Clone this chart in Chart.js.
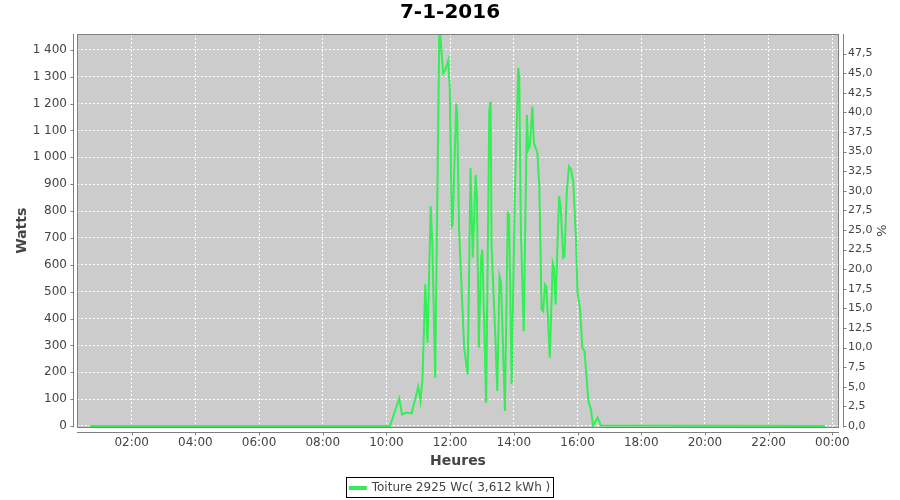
<!DOCTYPE html>
<html>
<head>
<meta charset="utf-8">
<script src="https://cdn.jsdelivr.net/npm/chart.js@4/dist/chart.umd.min.js"></script>
<style>
  body { margin: 0; background: #ffffff; }
  #wrap { width: 900px; height: 500px; }
</style>
</head>
<body>
<div id="wrap"><canvas id="prodChart" width="900" height="500"></canvas></div>
<script>
// production du jour, heures decimales / watts
var hours = [0.69, 10.11, 10.40, 10.49, 10.62, 10.79, 11.00, 11.07, 11.13, 11.22, 11.29, 11.39, 11.44, 11.53,
  11.66, 11.70, 11.78, 11.85, 11.94, 11.99, 12.05, 12.08, 12.19, 12.22, 12.28, 12.44, 12.55, 12.64,
  12.71, 12.80, 12.84, 12.90, 12.97, 13.01, 13.13, 13.23, 13.27, 13.30, 13.41, 13.48, 13.55, 13.60,
  13.72, 13.81, 13.85, 13.93, 14.03, 14.14, 14.17, 14.22, 14.31, 14.41, 14.45, 14.50, 14.58, 14.63,
  14.74, 14.80, 14.87, 14.92, 14.98, 15.02, 15.13, 15.22, 15.26, 15.31, 15.42, 15.47, 15.55, 15.59,
  15.66, 15.73, 15.80, 15.87, 15.95, 16.00, 16.08, 16.15, 16.22, 16.34, 16.42, 16.49, 16.63, 16.73, 23.77];
var watts = [0, 0, 102, 43, 50, 47, 146, 93, 173, 527, 310, 818, 681, 180,
  1475, 1440, 1313, 1326, 1360, 1251, 743, 750, 1200, 1165, 731, 291, 192, 960,
  626, 935, 855, 291, 620, 657, 87, 1177, 1208, 669, 359, 130, 558, 533,
  56, 793, 787, 155, 855, 1332, 1301, 731, 353, 1158, 1028, 1041, 1189, 1053,
  1016, 892, 434, 427, 527, 520, 254, 607, 589, 452, 855, 818, 626, 632,
  867, 966, 954, 904, 694, 496, 434, 291, 279, 93, 62, 0, 31, 2, 0];

var seriesLabel = 'Toiture 2925 Wc( 3,612 kWh )';
var xTickHours = [2, 4, 6, 8, 10, 12, 14, 16, 18, 20, 22, 24];
var xTickLabels = ['02:00', '04:00', '06:00', '08:00', '10:00', '12:00', '14:00', '16:00', '18:00', '20:00', '22:00', '00:00'];
var wattTicks = [0, 100, 200, 300, 400, 500, 600, 700, 800, 900, 1000, 1100, 1200, 1300, 1400];
var pctTicks = [0, 2.5, 5, 7.5, 10, 12.5, 15, 17.5, 20, 22.5, 25, 27.5, 30, 32.5, 35, 37.5, 40, 42.5, 45, 47.5];

var PAD_B = -4;
var PLOT_BOTTOM = 427.5;
var FONT = "'DejaVu Sans', sans-serif";
var GREY = '#444444';

var points = [];
for (var i = 0; i < hours.length; i++) {
  points.push({ x: hours[i], y: watts[i] });
}

// fond gris, cadre et lignes d'axe decalees facon jfreechart
var plotDeco = {
  id: 'plotDeco',
  beforeDraw: function(chart) {
    var a = chart.chartArea, c = chart.ctx;
    c.save();
    c.fillStyle = '#cccccc';
    c.fillRect(a.left, a.top, a.right - a.left, a.bottom - a.top);
    c.restore();
  },
  afterDraw: function(chart) {
    var a = chart.chartArea, c = chart.ctx;
    c.save();
    c.strokeStyle = '#808080';
    c.lineWidth = 1;
    c.strokeRect(Math.round(a.left) + 0.5, Math.round(a.top) + 0.5, Math.round(a.right - a.left) - 1, Math.round(a.bottom - a.top) - 1);

    var lx = Math.round(a.left) - 3.5;
    var rx = Math.round(a.right) + 4.5;
    var by = Math.round(a.bottom) + 4.5;
    c.beginPath();
    c.moveTo(lx, a.top); c.lineTo(lx, a.bottom);
    c.moveTo(rx, a.top); c.lineTo(rx, a.bottom);
    c.moveTo(a.left, by); c.lineTo(a.right, by);
    var ys = chart.scales.y, y2 = chart.scales.y2, xs = chart.scales.x;
    ys.ticks.forEach(function(t) {
      var p = Math.round(ys.getPixelForValue(t.value)) + 0.5;
      c.moveTo(lx - 3, p); c.lineTo(lx, p);
    });
    y2.ticks.forEach(function(t) {
      var p = Math.round(y2.getPixelForValue(t.value)) + 0.5;
      c.moveTo(rx, p); c.lineTo(rx + 3, p);
    });
    xs.ticks.forEach(function(t) {
      var p = Math.round(xs.getPixelForValue(t.value)) + 0.5;
      c.moveTo(p, by); c.lineTo(p, by + 3);
    });
    c.stroke();

    // cadre de la legende
    var lg = chart.legend;
    if (lg && lg.legendHitBoxes && lg.legendHitBoxes.length) {
      var hb = lg.legendHitBoxes[0];
      c.strokeStyle = '#000000';
      c.strokeRect(Math.round(hb.left) - 3.5, Math.round(hb.top) - 4.5, Math.round(hb.width) + 6, Math.round(hb.height) + 8);
    }
    c.restore();
  }
};

var ctx = document.getElementById('prodChart');

var myChart = new Chart(ctx, {
  type: 'line',
  data: {
    datasets: [{
      label: seriesLabel,
      data: points,
      borderColor: '#33ee55',
      backgroundColor: '#33ee55',
      borderWidth: 2,
      pointRadius: 0,
      tension: 0,
      yAxisID: 'y'
    }]
  },
  options: {
    responsive: false,
    animation: false,
    layout: { padding: { top: 0, left: 0, right: 0, bottom: PAD_B } },
    plugins: {
      title: {
        display: true,
        text: '7-1-2016',
        color: '#000000',
        font: { family: FONT, size: 20, weight: 'bold', lineHeight: 1.2 },
        padding: { top: 1, bottom: 9 }
      },
      legend: {
        display: true,
        position: 'bottom',
        labels: {
          color: GREY,
          font: { family: FONT, size: 12 },
          boxWidth: 16,
          boxHeight: 2,
          padding: 6
        }
      },
      tooltip: { enabled: false }
    },
    scales: {
      x: {
        type: 'linear',
        min: 0.283,
        max: 24.21,
        afterBuildTicks: function(scale) {
          scale.ticks = xTickHours.map(function(v) { return { value: v }; });
        },
        afterFit: function(scale) {
          scale.height = 500 - PLOT_BOTTOM - PAD_B - scale.chart.legend.height;
        },
        ticks: {
          color: GREY,
          font: { family: FONT, size: 12 },
          padding: 8,
          maxRotation: 0,
          autoSkip: false,
          callback: function(v) {
            var k = xTickHours.indexOf(v);
            return k >= 0 ? xTickLabels[k] : '';
          }
        },
        grid: { color: '#ffffff', lineWidth: 1, drawTicks: false },
        border: { display: false, dash: [2, 2] },
        title: {
          display: true,
          text: 'Heures',
          color: GREY,
          font: { family: FONT, size: 14, weight: 'bold' },
          padding: { top: 0, bottom: 6 }
        }
      },
      y: {
        position: 'left',
        min: -5.6,
        max: 1459,
        afterBuildTicks: function(scale) {
          scale.ticks = wattTicks.map(function(v) { return { value: v }; });
        },
        afterFit: function(scale) { scale.width = 77; },
        ticks: {
          color: GREY,
          font: { family: FONT, size: 12 },
          padding: 10,
          callback: function(v) {
            return String(v).replace(/\B(?=(\d{3})+(?!\d))/g, ' ');
          }
        },
        grid: { color: '#ffffff', lineWidth: 1, drawTicks: false },
        border: { display: false, dash: [2, 2] },
        title: {
          display: true,
          text: 'Watts',
          color: GREY,
          font: { family: FONT, size: 14, weight: 'bold' },
          padding: { top: 14, bottom: 0 }
        }
      },
      y2: {
        position: 'right',
        min: -0.19,
        max: 50,
        afterBuildTicks: function(scale) {
          scale.ticks = pctTicks.map(function(v) { return { value: v }; });
        },
        afterFit: function(scale) { scale.width = 61; },
        ticks: {
          color: GREY,
          font: { family: FONT, size: 11 },
          padding: 9,
          callback: function(v) { return v.toFixed(1).replace('.', ','); }
        },
        grid: { display: false, drawTicks: false },
        border: { display: false },
        title: {
          display: true,
          text: '%',
          color: GREY,
          font: { family: FONT, size: 13 },
          padding: { top: 12, bottom: 0 }
        }
      }
    }
  },
  plugins: [plotDeco]
});
</script>
</body>
</html>
